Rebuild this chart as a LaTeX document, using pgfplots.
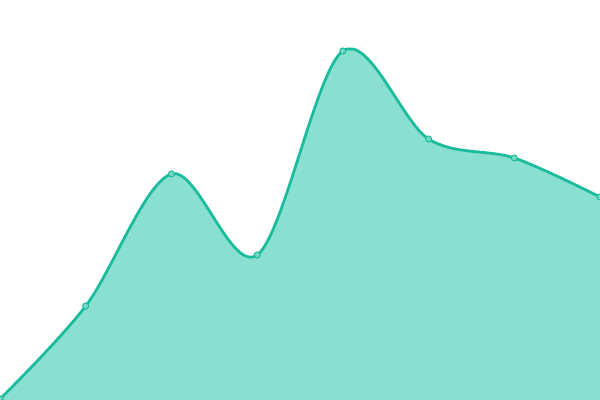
\documentclass[border=0pt]{standalone}
\usepackage{pgfplots}
\pgfplotsset{compat=1.18}
\definecolor{lineC}{HTML}{1ABC9C}
\definecolor{fillC}{HTML}{8AE0D0}
\definecolor{markC}{HTML}{76D7C4}

\begin{document}
\begin{tikzpicture}
\begin{axis}[
    scale only axis,
    width=6in, height=4in,
    xmin=0, xmax=7,
    ymin=0, ymax=400,
    hide axis,
    clip=true,
]
\addplot[draw=none, fill=fillC, smooth, tension=0.55]
    coordinates {
    (0,1)(1,94)(2,226)(3,145)(4,349)(5,261)(6,242)(7,203)
    } \closedcycle;
\addplot[lineC, line width=2pt, smooth, tension=0.55,
    mark=*, mark size=2.2pt,
    mark options={fill=markC, draw=lineC, line width=0.7pt}]
    coordinates {
    (0,1)(1,94)(2,226)(3,145)(4,349)(5,261)(6,242)(7,203)
    };
\end{axis}
\pgfresetboundingbox
\path (current axis.south west) rectangle (current axis.north east);
\end{tikzpicture}
\end{document}
